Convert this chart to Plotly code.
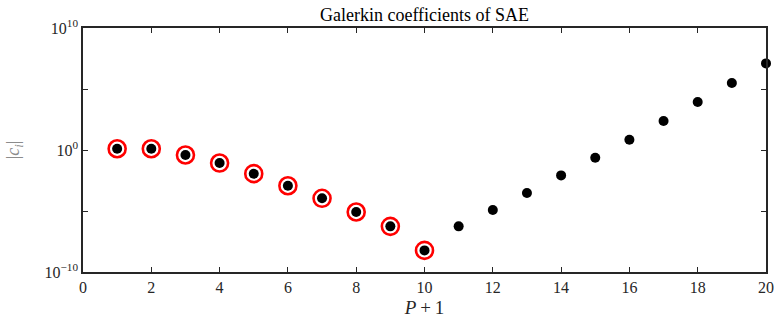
import plotly.graph_objects as go

# Data
p_plus_1 = list(range(1, 21))
abs_c = [10**0.10, 10**0.10, 10**-0.41, 10**-1.07, 10**-1.94, 10**-2.93, 10**-3.96,
         10**-5.08, 10**-6.26, 10**-8.23, 10**-6.26, 10**-4.92, 10**-3.53, 10**-2.08,
         10**-0.63, 10**0.84, 10**2.38, 10**3.93, 10**5.49, 10**7.10]
n_circled = 10

x_ticks = list(range(0, 21, 2))
y_tickvals = [1e-10, 1e0, 1e10]
y_ticktext = ["10<sup>−10</sup>", "10<sup>0</sup>", "10<sup>10</sup>"]
y_minor_ticks = [1e-5, 1e5]

font_family = "Liberation Serif, DejaVu Serif, serif"
axis_color = "#262626"

fig = go.Figure()
fig.add_trace(go.Scatter(
    x=p_plus_1[:n_circled], y=abs_c[:n_circled], mode="markers",
    marker=dict(symbol="circle-open", size=17, color="red", line=dict(width=2.6, color="red")),
    cliponaxis=False, showlegend=False, hoverinfo="skip"))
fig.add_trace(go.Scatter(
    x=p_plus_1, y=abs_c, mode="markers",
    marker=dict(symbol="circle", size=10, color="black"),
    cliponaxis=False, showlegend=False))

axis_common = dict(showline=True, linecolor=axis_color, linewidth=1.5, mirror="ticks",
                   ticks="inside", ticklen=5, tickwidth=1.3, tickcolor=axis_color,
                   showgrid=False, zeroline=False, automargin=False,
                   tickfont=dict(family=font_family, size=16, color=axis_color))

fig.update_layout(
    width=774, height=327,
    margin=dict(l=83, r=8, t=28, b=55),
    plot_bgcolor="white", paper_bgcolor="white",
    title=dict(text="Galerkin coefficients of SAE", x=0.5, xanchor="center",
               xref="paper", y=1, yref="paper", yanchor="bottom", pad=dict(b=7),
               automargin=False,
               font=dict(family=font_family, size=18, color="black")),
    xaxis=dict(range=[0, 20], tickvals=x_ticks,
               title=dict(text="<i>P</i>\u2009+\u20091", standoff=6,
                          font=dict(family=font_family, size=19, color=axis_color)),
               **axis_common),
    yaxis=dict(type="log", range=[-10, 10], tickvals=y_tickvals, ticktext=y_ticktext,
               minor=dict(tickvals=y_minor_ticks, ticks="inside", ticklen=5,
                          tickwidth=1.3, tickcolor=axis_color, showgrid=False),
               title=dict(text="|<i>c<sub>i</sub></i>|", standoff=20,
                          font=dict(family=font_family, size=18, color="#8c8c8c")),
               **axis_common),
)

fig.write_html("out.html")
